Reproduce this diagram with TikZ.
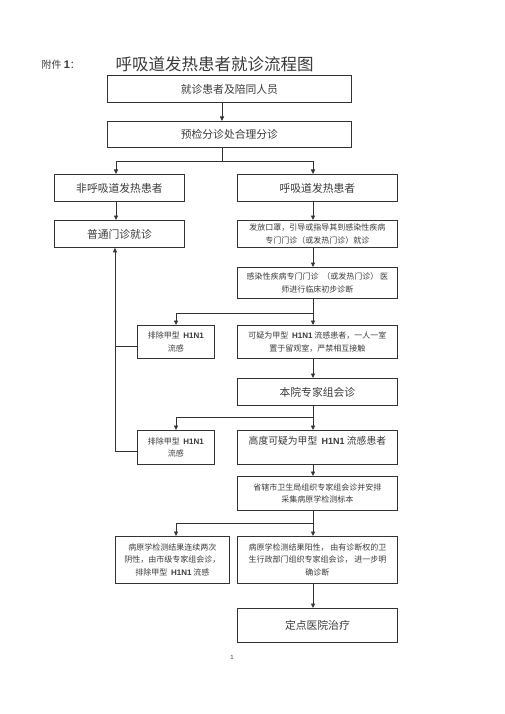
\documentclass[tikz,border=0pt]{standalone}
\usepackage{fontspec}
\setmainfont{Noto Sans CJK SC}
\newfontfamily\hfont{Liberation Sans}
\usetikzlibrary{arrows.meta,calc}
\newcommand{\HN}{{\hfont\bfseries H1N1}}
\newcommand{\bigf}{\fontsize{10.8}{13}\selectfont}
\newcommand{\smf}{\fontsize{8}{12.3}\selectfont}
\definecolor{ln}{HTML}{333333}
\definecolor{txt}{HTML}{3A3A3A}
\begin{document}
\begin{tikzpicture}[x=1pt,y=-1pt,
  box/.style={draw=ln, line width=0.8pt, inner sep=0pt, anchor=north west, align=center, text=txt},
  bigbox/.style={box, font=\bigf},
  smbox/.style={box, font=\smf},
  arr/.style={draw=ln, line width=0.8pt, -{Triangle[length=4.5pt,width=4pt]}},
  ln/.style={draw=ln, line width=0.8pt}]
\useasboundingbox (0,0) rectangle (505,714);
\coordinate (colM) at (222,0);
\coordinate (colL) at (116,0);
\coordinate (colR) at (313,0);
\coordinate (colE) at (176,0);
\coordinate (colV) at (115,0);
% title
\node[anchor=west, text=txt, font=\fontsize{10}{12}\selectfont] (att) at (38,65) {附件 {\hfont\bfseries\fontsize{11}{12}\selectfont 1}：};
\node[anchor=west, text=txt, font=\fontsize{16.5}{18}\selectfont] (title) at (112,64) {呼吸道发热患者就诊流程图};
% boxes
\node[bigbox, minimum width=244pt, minimum height=27pt] (b1) at (107,75) {就诊患者及陪同人员};
\node[bigbox, minimum width=244pt, minimum height=26pt] (b2) at (107,121) {预检分诊处合理分诊};
\node[bigbox, minimum width=130pt, minimum height=27pt] (L1) at (54,174) {非呼吸道发热患者};
\node[bigbox, minimum width=160pt, minimum height=27pt] (R1) at (237,174) {呼吸道发热患者};
\node[bigbox, minimum width=130pt, minimum height=27pt] (L2) at (54,220) {普通门诊就诊};
\node[smbox, minimum width=160pt, minimum height=27pt] (R2) at (237,220) {发放口罩，引导或指导其到感染性疾病\\专门门诊（或发热门诊）就诊};
\node[smbox, minimum width=160pt, minimum height=31pt] (R3) at (237,267) {感染性疾病专门门诊 \ （或发热门诊）\ 医\\师进行临床初步诊断};
\node[smbox, minimum width=77pt, minimum height=33pt] (E1) at (137,325) {排除甲型 \ \HN\\流感};
\node[smbox, minimum width=160pt, minimum height=33pt] (R4) at (237,325) {可疑为甲型 \ \HN\ 流感患者，一人一室\\置于留观室，严禁相互接触};
\node[bigbox, minimum width=160pt, minimum height=27pt] (R5) at (237,378) {\raisebox{-2pt}{本院专家组会诊}};
\node[smbox, minimum width=77pt, minimum height=34pt] (E2) at (137,430) {排除甲型 \ \HN\\流感};
\node[box, font=\fontsize{9.8}{14}\selectfont, minimum width=160pt, minimum height=34pt] (R6) at (237,430) {高度可疑为甲型 \ {\fontsize{9}{14}\selectfont\HN} 流感患者\\ ~};
\node[smbox, minimum width=160pt, minimum height=34pt] (R7) at (237,476) {省辖市卫生局组织专家组会诊并安排\\采集病原学检测标本};
\node[smbox, minimum width=114pt, minimum height=47pt] (N1) at (115,536) {病原学检测结果连续两次\\阴性，由市级专家组会诊，\\排除甲型 \ \HN\ 流感};
\node[smbox, minimum width=160pt, minimum height=47pt] (P1) at (237,536) {病原学检测结果阳性，\ 由有诊断权的卫\\生行政部门组织专家组会诊，\ 进一步明\\确诊断};
\node[bigbox, minimum width=160pt, minimum height=34pt] (F) at (237,608) {定点医院治疗};
\node[text=txt, font=\fontsize{6}{7}\selectfont\hfont] (pg) at (232,657) {1};
% split points
\coordinate (s1) at (222,161);
\coordinate (s2) at (313,313);
\coordinate (s3) at (313,417);
\coordinate (s4) at (313,523);
% connectors
\draw[arr] (b1.south -| colM) -- (b2.north -| colM);
\draw[ln] (b2.south -| colM) -- (s1);
\draw[arr] (s1) -| (L1.north -| colL);
\draw[arr] (s1) -| (R1.north -| colR);
\draw[arr] (L1.south -| colL) -- (L2.north -| colL);
\draw[arr] (R1.south -| colR) -- (R2.north -| colR);
\draw[arr] (R2.south -| colR) -- (R3.north -| colR);
\draw[ln] (R3.south -| colR) -- (s2);
\draw[arr] (s2) -- (R4.north -| colR);
\draw[arr] (s2) -| (E1.north -| colE);
\draw[arr] (R4.south -| colR) -- (R5.north -| colR);
\draw[ln] (R5.south -| colR) -- (s3);
\draw[arr] (s3) -- (R6.north -| colR);
\draw[arr] (s3) -| (E2.north -| colE);
\draw[ln] ([yshift=-4pt]E1.west) -- ([yshift=-4pt]E1.west -| colV);
\draw[arr] ([yshift=-4pt]E2.west) -| (L2.south -| colV);
\draw[arr] (R6.south -| colR) -- (R7.north -| colR);
\draw[ln] (R7.south -| colR) -- (s4);
\draw[arr] (s4) -- (P1.north -| colR);
\draw[arr] (s4) -| (N1.north -| colE);
\draw[arr] (P1.south -| colR) -- (F.north -| colR);
\end{tikzpicture}
\end{document}
